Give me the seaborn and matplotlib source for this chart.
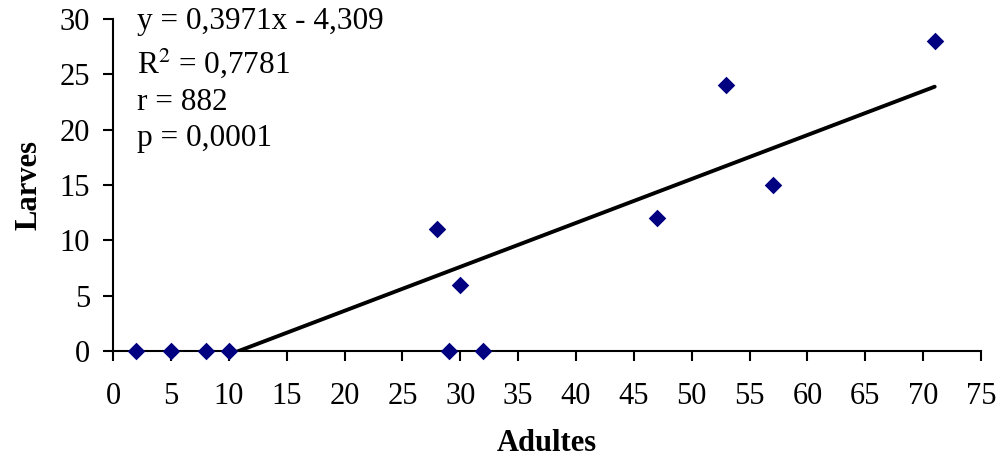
import pandas as pd
import numpy as np
import matplotlib
matplotlib.use("Agg")
import matplotlib.pyplot as plt
import seaborn as sns

sns.set_theme(style="ticks")
plt.rcParams['font.family'] = ['Liberation Serif', 'DejaVu Serif']
plt.rcParams['mathtext.fontset'] = 'stix'
plt.rcParams['text.color'] = 'black'
plt.rcParams['axes.labelcolor'] = 'black'

adultes = [2, 5, 8, 10, 28, 29, 30, 32, 47, 53, 57, 71]
larves = [0, 0, 0, 0, 11, 0, 6, 0, 12, 24, 15, 28]
stats_lines = ["y = 0,3971x - 4,309", "R$^2$ = 0,7781", "r = 882", "p = 0,0001"]

df = pd.DataFrame({'Adultes': adultes, 'Larves': larves})

fig = plt.figure(figsize=(10.01, 4.59), dpi=100)
ax = fig.add_axes([0.113, 0.2353, 0.867, 0.7233])

sns.regplot(data=df, x='Adultes', y='Larves', ax=ax, ci=None, truncate=True,
            marker='D',
            scatter_kws=dict(color='#000080', s=80, alpha=1, clip_on=False, zorder=3, linewidths=0),
            line_kws=dict(color='black', lw=2.8, zorder=2, solid_capstyle='round'))

ax.set_xlim(0, 75)
ax.set_ylim(0, 30)
ax.set_xticks(np.arange(0, 76, 5))
ax.set_yticks(np.arange(0, 31, 5))
sns.despine(ax=ax)
for s in ['left', 'bottom']:
    ax.spines[s].set_linewidth(1.5)
    ax.spines[s].set_color('black')
ax.tick_params(axis='both', direction='out', length=7.5, width=1.5, color='black',
               labelsize=22, labelcolor='black')
ax.tick_params(axis='x', pad=15)
ax.tick_params(axis='y', pad=9)
ax.set_xlabel('Adultes', fontsize=22, fontweight='bold', labelpad=13, color='black')
ax.set_ylabel('Larves', fontsize=22, fontweight='bold', labelpad=12, color='black')

# baselines of the four annotation lines (axes fraction)
text_y = [0.970, 0.837, 0.726, 0.617]
for t, yy in zip(stats_lines, text_y):
    ax.text(0.028, yy, t, transform=ax.transAxes, fontsize=22.5,
            va='baseline', ha='left', color='black')

fig.savefig('out.png', dpi=100)
